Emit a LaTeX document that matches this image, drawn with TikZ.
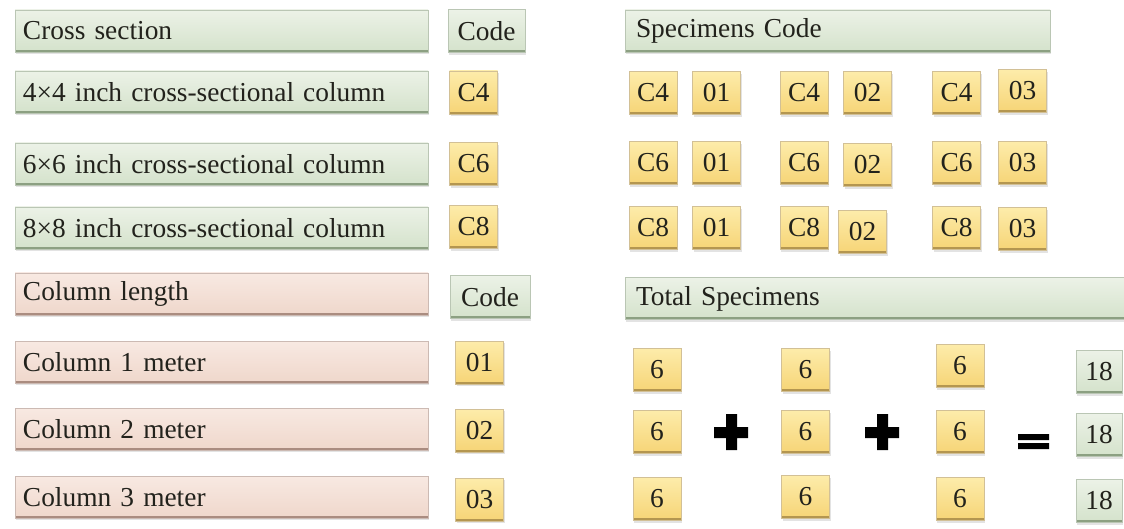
\documentclass[tikz,border=0pt]{standalone}
\usepackage{fontspec}
\setmainfont{Liberation Serif}
\usepackage{tikz}
\usetikzlibrary{shadows}

\definecolor{grnT}{RGB}{236,242,231}
\definecolor{grnB}{RGB}{212,226,203}
\definecolor{grnL}{RGB}{140,160,130}
\definecolor{pnkT}{RGB}{248,233,226}
\definecolor{pnkB}{RGB}{239,215,203}
\definecolor{pnkL}{RGB}{170,140,128}
\definecolor{ylwT}{RGB}{253,236,170}
\definecolor{ylwB}{RGB}{246,212,118}
\definecolor{ylwL}{RGB}{180,150,80}
\definecolor{txt}{RGB}{34,34,28}

\begin{document}
\begin{tikzpicture}[x=0.5pt,y=-0.5pt,
  box/.style={draw=#1L!60,line width=0.3pt,top color=#1T,bottom color=#1B,
    drop shadow={shadow xshift=0.5pt,shadow yshift=-1.2pt,opacity=0.22},
    path picture={\draw[#1L,line width=2.2pt] (path picture bounding box.south west)--(path picture bounding box.south east);},
    text=txt,font=\fontsize{13.7}{15}\selectfont,inner sep=0pt},
  wide/.style={box=#1,minimum height=21pt,text width=198.5pt,inner xsep=4pt,align=left},
  head/.style={box=#1,minimum height=21pt,align=left,inner xsep=5.5pt},
  sbox/.style={box=#1,minimum width=24pt,minimum height=21.5pt},
  sbox/.default=ylw]
\useasboundingbox (0,0) rectangle (1124,529);

% left part: cross section
\draw (221.5,31) node[wide=grn] (L1) {Cross section} +(265,0) node[sbox=grn,minimum width=38.5pt] (K1) {Code};
\draw (221.5,92) node[wide=grn] (L2) {4×4 inch cross-sectional column} (473.5,92.5) node[sbox] (C4) {C4};
\draw (221.5,164) node[wide=grn] (L3) {6×6 inch cross-sectional column} (473.5,164) node[sbox] (C6) {C6};
\draw (221.5,228) node[wide=grn] (L4) {8×8 inch cross-sectional column} (473.5,227) node[sbox] (C8) {C8};

% left part: column length
\draw (221.5,294) node[wide=pnk] (P1) {Column length} +(268.5,3) node[sbox=grn,minimum width=40pt] (K2) {Code};
\draw (221.5,362) node[wide=pnk] (P2) {Column 1 meter} (479.5,362.5) node[sbox] (M1) {01};
\draw (221.5,429) node[wide=pnk] (P3) {Column 2 meter} (479.5,430.5) node[sbox] (M2) {02};
\draw (221.5,497) node[wide=pnk] (P4) {Column 3 meter} (479.5,499.5) node[sbox] (M3) {03};

% specimens code
\node[head=grn,minimum width=212.5pt,text width=201.5pt] (S0) at (837.5,31) {Specimens Code};
\draw (653,93) node[sbox] (S11) {C4} +(63.5,0) node[sbox] (S12) {01};
\draw (804,93) node[sbox] (S21) {C4} +(63.5,0) node[sbox] (S22) {02};
\draw (956.5,93) node[sbox] (S31) {C4} +(66,-2) node[sbox] (S32) {03};
\draw (653,163) node[sbox] (S13) {C6} +(63.5,0) node[sbox] (S14) {01};
\draw (804,163) node[sbox] (S23) {C6} +(63.5,2) node[sbox] (S24) {02};
\draw (956.5,163) node[sbox] (S33) {C6} +(66,0) node[sbox] (S34) {03};
\draw (653,228) node[sbox] (S15) {C8} +(63.5,0) node[sbox] (S16) {01};
\draw (804,228) node[sbox] (S25) {C8} +(58.5,4) node[sbox] (S26) {02};
\draw (956.5,228) node[sbox] (S35) {C8} +(66,1) node[sbox] (S36) {03};

% total specimens
\node[head=grn,minimum width=257.5pt,text width=246.5pt] (T0) at (882.5,298.5) {Total Specimens};
\draw (657,370) node[sbox] (N11) {6} +(0,62) node[sbox] (N12) {6} +(0,129) node[sbox] (N13) {6};
\draw (805.5,370) node[sbox] (N21) {6} +(0,62) node[sbox] (N22) {6} +(0,127) node[sbox] (N23) {6};
\draw (960,366) node[sbox] (N31) {6} +(0,66) node[sbox] (N32) {6} +(0,133) node[sbox] (N33) {6};
\draw (1099,372) node[sbox=grn,minimum width=23pt] (N41) {18} +(0,63) node[sbox=grn,minimum width=23pt] (N42) {18} +(0,129) node[sbox=grn,minimum width=23pt] (N43) {18};

% plus and equals signs
\fill (726,414) rectangle (737,450) (714,427) rectangle (748,438);
\fill (877,414) rectangle (888,450) (865,427) rectangle (899,438);
\fill (1018,434) rectangle (1049,440) (1018,443) rectangle (1049,449);
\end{tikzpicture}
\end{document}
